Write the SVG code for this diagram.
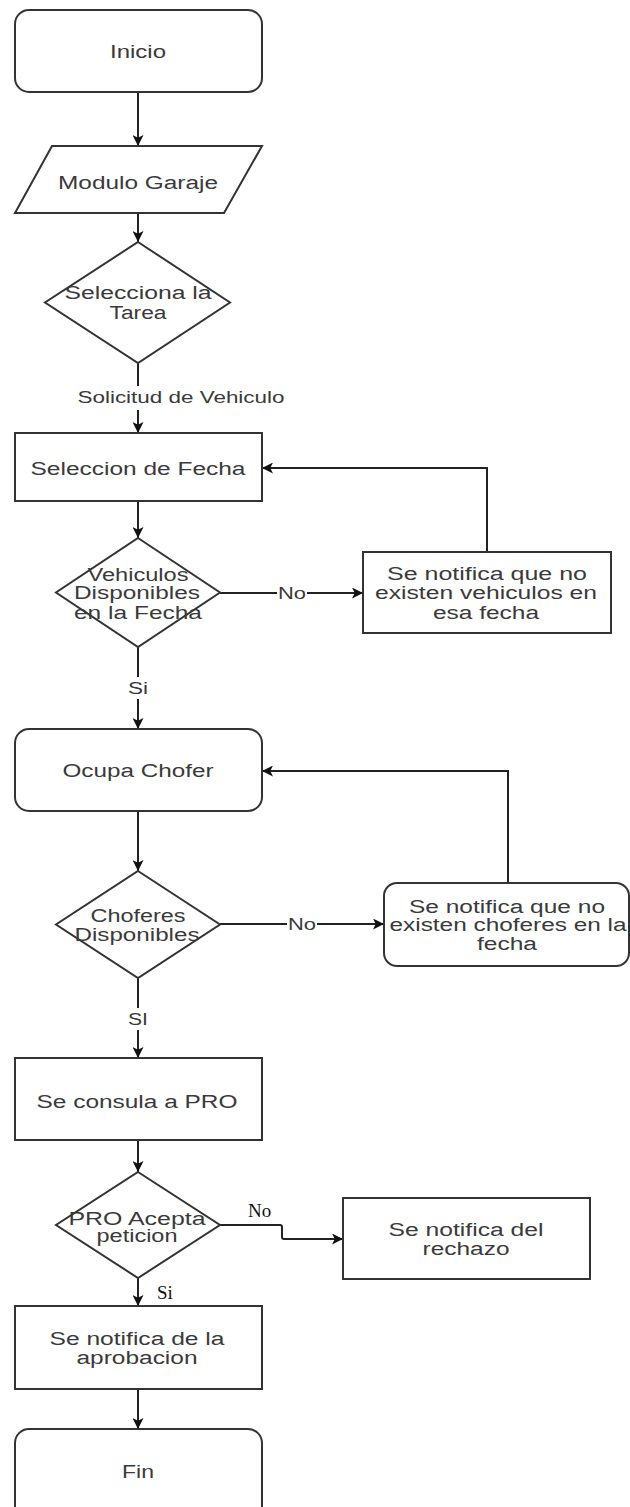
<svg xmlns="http://www.w3.org/2000/svg" width="630" height="1507" viewBox="0 0 630 1507">
  <defs>
    <marker id="arrow" viewBox="0 0 12 12" refX="12" refY="6" markerWidth="11" markerHeight="11" markerUnits="userSpaceOnUse" orient="auto">
      <path d="M0,0 L12,6 L0,12 L3,6 z" fill="#111"/>
    </marker>
    <style>
      .shape { fill: #ffffff; stroke: #333333; stroke-width: 2; }
      .edge { fill: none; stroke: #222222; stroke-width: 2; marker-end: url(#arrow); }
      .line { fill: none; stroke: #222222; stroke-width: 2; }
      .t { font-family: "Liberation Sans", Arial, sans-serif; font-size: 18px; fill: #3a3a3a; text-anchor: middle; }
      .lbl { font-family: "Liberation Sans", Arial, sans-serif; font-size: 16px; fill: #3a3a3a; text-anchor: middle; }
      .serif { font-family: "Liberation Serif", "Times New Roman", serif; font-size: 19px; fill: #111111; }
      .bg { fill: #ffffff; }
    </style>
  </defs>

  <rect width="630" height="1507" fill="#ffffff"/>

  <!-- connectors -->
  <g id="connectors">
    <path class="edge" d="M138,92 V146"/>
    <path class="edge" d="M138,213 V242"/>
    <path class="edge" d="M138,363 V433"/>
    <path class="edge" d="M138,501 V538"/>
    <path class="edge" d="M220,593 H363"/>
    <path class="edge" d="M487,552 V468 H262"/>
    <path class="edge" d="M138,647 V729"/>
    <path class="edge" d="M138,811 V871"/>
    <path class="edge" d="M220,924 H384"/>
    <path class="edge" d="M508,883 V771 H262"/>
    <path class="edge" d="M138,978 V1058"/>
    <path class="edge" d="M138,1140 V1172"/>
    <path class="edge" d="M220,1225 H280 Q282,1225 282,1227 V1237 Q282,1239 284,1239 H343"/>
    <path class="edge" d="M138,1278 V1306"/>
    <path class="edge" d="M138,1389 V1429"/>

    <!-- edge labels -->
    <rect class="bg" x="76" y="386" width="212" height="24"/>
    <text class="lbl" x="181" y="402.6" textLength="207" lengthAdjust="spacingAndGlyphs">Solicitud de Vehiculo</text>

    <rect class="bg" x="277" y="584" width="30" height="18"/>
    <text class="lbl" x="292" y="598.6" textLength="28" lengthAdjust="spacingAndGlyphs">No</text>

    <rect class="bg" x="127" y="677" width="22" height="22"/>
    <text class="lbl" x="138" y="693.6" textLength="20" lengthAdjust="spacingAndGlyphs">Si</text>

    <rect class="bg" x="287" y="915" width="30" height="18"/>
    <text class="lbl" x="302" y="929.6" textLength="28" lengthAdjust="spacingAndGlyphs">No</text>

    <rect class="bg" x="127" y="1008" width="22" height="22"/>
    <text class="lbl" x="138" y="1024.6" textLength="20" lengthAdjust="spacingAndGlyphs">SI</text>

    <text class="serif" x="248" y="1217">No</text>
    <text class="serif" x="157" y="1299">Si</text>
  </g>

  <!-- nodes -->
  <g id="inicio">
    <rect class="shape" x="15" y="10" width="247" height="82" rx="14" ry="14"/>
    <text class="t" x="138" y="58" font-size="17" textLength="56" lengthAdjust="spacingAndGlyphs">Inicio</text>
  </g>

  <g id="modulo-garaje">
    <polygon class="shape" points="52,146 262,146 224,213 15,213"/>
    <text class="t" x="138" y="188.6" font-size="19" textLength="160" lengthAdjust="spacingAndGlyphs">Modulo Garaje</text>
  </g>

  <g id="selecciona-tarea">
    <polygon class="shape" points="138,242 230,302.5 138,363 45,302.5"/>
    <text class="t" x="138" y="299.3" textLength="147" lengthAdjust="spacingAndGlyphs">Selecciona la</text>
    <text class="t" x="138" y="319.3" textLength="57" lengthAdjust="spacingAndGlyphs">Tarea</text>
  </g>

  <g id="seleccion-fecha">
    <rect class="shape" x="15" y="433" width="247" height="68"/>
    <text class="t" x="138" y="474.6" font-size="19" textLength="215" lengthAdjust="spacingAndGlyphs">Seleccion de Fecha</text>
  </g>

  <g id="vehiculos-disponibles">
    <polygon class="shape" points="138,538 220,592.5 138,647 56,592.5"/>
    <text class="t" x="138" y="581.3" textLength="101" lengthAdjust="spacingAndGlyphs">Vehiculos</text>
    <text class="t" x="137" y="599.3" textLength="126" lengthAdjust="spacingAndGlyphs">Disponibles</text>
    <text class="t" x="138" y="619.3" textLength="128" lengthAdjust="spacingAndGlyphs">en la Fecha</text>
  </g>

  <g id="sin-vehiculos">
    <rect class="shape" x="363" y="552" width="248" height="81"/>
    <text class="t" x="487" y="580.3" textLength="200" lengthAdjust="spacingAndGlyphs">Se notifica que no</text>
    <text class="t" x="486" y="599.3" textLength="222" lengthAdjust="spacingAndGlyphs">existen vehiculos en</text>
    <text class="t" x="486" y="619.3" textLength="106" lengthAdjust="spacingAndGlyphs">esa fecha</text>
  </g>

  <g id="ocupa-chofer">
    <rect class="shape" x="15" y="729" width="247" height="82" rx="14" ry="14"/>
    <text class="t" x="138" y="777.3" textLength="151" lengthAdjust="spacingAndGlyphs">Ocupa Chofer</text>
  </g>

  <g id="choferes-disponibles">
    <polygon class="shape" points="138,871 220,924.5 138,978 56,924.5"/>
    <text class="t" x="138" y="922.3" textLength="95" lengthAdjust="spacingAndGlyphs">Choferes</text>
    <text class="t" x="137" y="941.3" textLength="125" lengthAdjust="spacingAndGlyphs">Disponibles</text>
  </g>

  <g id="sin-choferes">
    <rect class="shape" x="384" y="883" width="245" height="83" rx="13" ry="13"/>
    <text class="t" x="507" y="913.3" textLength="196" lengthAdjust="spacingAndGlyphs">Se notifica que no</text>
    <text class="t" x="508" y="931.3" textLength="237" lengthAdjust="spacingAndGlyphs">existen choferes en la</text>
    <text class="t" x="507" y="950.3" textLength="60" lengthAdjust="spacingAndGlyphs">fecha</text>
  </g>

  <g id="consulta-pro">
    <rect class="shape" x="15" y="1058" width="247" height="82"/>
    <text class="t" x="137" y="1107.6" font-size="19" textLength="201" lengthAdjust="spacingAndGlyphs">Se consula a PRO</text>
  </g>

  <g id="pro-acepta">
    <polygon class="shape" points="138,1172 220,1225 138,1278 56,1225"/>
    <text class="t" x="137" y="1225.3" textLength="137" lengthAdjust="spacingAndGlyphs">PRO Acepta</text>
    <text class="t" x="137" y="1242.3" textLength="81" lengthAdjust="spacingAndGlyphs">peticion</text>
  </g>

  <g id="rechazo">
    <rect class="shape" x="343" y="1198" width="247" height="81"/>
    <text class="t" x="466" y="1236.3" textLength="155" lengthAdjust="spacingAndGlyphs">Se notifica del</text>
    <text class="t" x="466" y="1255.3" textLength="87" lengthAdjust="spacingAndGlyphs">rechazo</text>
  </g>

  <g id="aprobacion">
    <rect class="shape" x="15" y="1306" width="247" height="83"/>
    <text class="t" x="137" y="1345.3" textLength="175" lengthAdjust="spacingAndGlyphs">Se notifica de la</text>
    <text class="t" x="137" y="1364.3" textLength="121" lengthAdjust="spacingAndGlyphs">aprobacion</text>
  </g>

  <g id="fin">
    <rect class="shape" x="15" y="1429" width="247" height="100" rx="14" ry="14"/>
    <text class="t" x="138" y="1478.3" textLength="32" lengthAdjust="spacingAndGlyphs">Fin</text>
  </g>
</svg>
